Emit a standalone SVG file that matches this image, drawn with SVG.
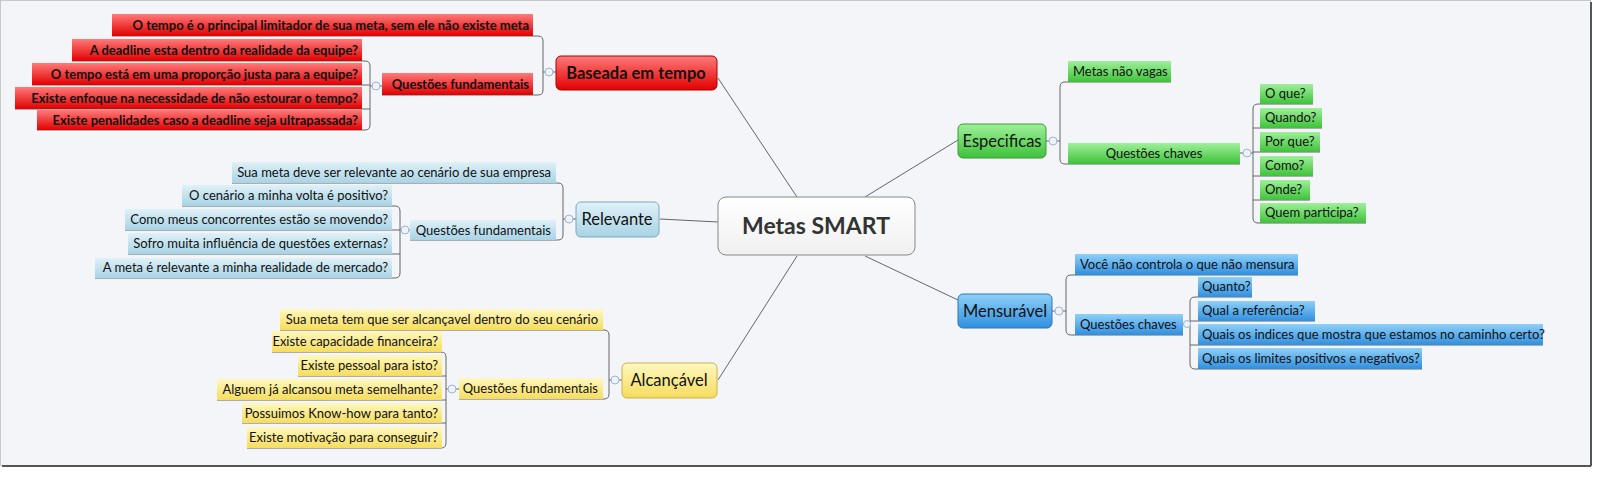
<svg xmlns="http://www.w3.org/2000/svg" width="1600" height="477" viewBox="0 0 1600 477">
<defs>
<linearGradient id="gR" x1="0" y1="0" x2="0" y2="1"><stop offset="0" stop-color="#ff7a7a"/><stop offset="1" stop-color="#e10000"/></linearGradient>
<linearGradient id="gG" x1="0" y1="0" x2="0" y2="1"><stop offset="0" stop-color="#9ff09a"/><stop offset="1" stop-color="#3ec23a"/></linearGradient>
<linearGradient id="gB" x1="0" y1="0" x2="0" y2="1"><stop offset="0" stop-color="#8fd0f8"/><stop offset="1" stop-color="#2f8fe0"/></linearGradient>
<linearGradient id="gL" x1="0" y1="0" x2="0" y2="1"><stop offset="0" stop-color="#dff1f8"/><stop offset="1" stop-color="#a8d3e5"/></linearGradient>
<linearGradient id="gY" x1="0" y1="0" x2="0" y2="1"><stop offset="0" stop-color="#fff8c0"/><stop offset="1" stop-color="#f6dc5c"/></linearGradient>
<linearGradient id="gW" x1="0" y1="0" x2="0" y2="1"><stop offset="0" stop-color="#ffffff"/><stop offset="1" stop-color="#f0f0f0"/></linearGradient>
</defs>
<style>
text{font-family:Lato,"Open Sans","Liberation Sans",sans-serif;font-size:13px;fill:#111}
.b{font-weight:bold}
.m{font-size:16.5px}
.c{font-size:23px;font-weight:bold;fill:#333}
.e{text-anchor:end}
.mid{text-anchor:middle}
.con path{fill:none;stroke:#666;stroke-width:1}
.col{fill:#eef3fa;stroke:#9fb4cf;stroke-width:1}
</style>
<rect x="0" y="0" width="1600" height="477" fill="#ffffff"/>
<rect x="0.5" y="0.5" width="1590" height="465" fill="#f4f5f9" stroke="#c8c8c8"/>
<line x1="1591" y1="2" x2="1591" y2="466" stroke="#555" stroke-width="2"/>
<line x1="2" y1="466" x2="1591" y2="466" stroke="#555" stroke-width="2"/>

<g class="con">
<path d="M797 197 L718 78 M718 222 L660 219 M797 256 L718 380 M865 197 L958 140 M865 256 L958 300"/>
<path d="M112 36 H538 Q543 36 543 41 V90 Q543 95 538 95 H382 M543 72 H556"/>
<path d="M72 61 H365 Q370 61 370 66 V125 Q370 130 365 130 H37 M32 85 H370 M15 109 H370 M370 86 H382"/>
<path d="M232 183 H558 Q563 183 563 188 V235 Q563 240 558 240 H410 M563 219 H576"/>
<path d="M182 206 H395 Q400 206 400 211 V273 Q400 278 395 278 H95 M125 230 H400 M128 254 H400 M400 230 H410"/>
<path d="M280 330 H604 Q609 330 609 335 V394 Q609 399 604 399 H459 M609 380 H622"/>
<path d="M272 352 H441 Q446 352 446 357 V443 Q446 448 441 448 H247 M298 376 H446 M217 400 H446 M242 423 H446 M446 389 H459"/>
<path d="M1171 82 H1065 Q1060 82 1060 87 V159 Q1060 164 1065 164 H1240 M1046 141 H1060"/>
<path d="M1313 104 H1258 Q1253 104 1253 109 V218 Q1253 223 1258 223 H1366 M1322 128 H1253 M1320 152 H1253 M1313 176 H1253 M1310 200 H1253 M1240 153 H1253"/>
<path d="M1298 275 H1071 Q1066 275 1066 280 V330 Q1066 335 1071 335 H1183 M1052 311 H1066"/>
<path d="M1252 297 H1195 Q1190 297 1190 302 V364 Q1190 369 1195 369 H1422 M1315 321 H1190 M1543 345 H1190 M1183 324 H1190"/>
</g>

<g id="center"><rect x="718" y="197" width="197" height="58" rx="8" fill="url(#gW)" stroke="#888"/><text class="c mid" x="816" y="234">Metas SMART</text></g>

<g id="baseada">
<rect x="556" y="56" width="161" height="34" rx="5" fill="url(#gR)" stroke="#a00"/><text class="m b mid" x="636" y="79" fill="#220">Baseada em tempo</text>
<circle class="col" cx="549" cy="72" r="4"/>
<rect x="112" y="14" width="421" height="22" fill="url(#gR)"/><text class="b e" x="529" y="30">O tempo é o principal limitador de sua meta, sem ele não existe meta</text>
<rect x="382" y="73" width="151" height="22" fill="url(#gR)"/><text class="b e" x="529" y="89">Questões fundamentais</text>
<circle class="col" cx="376" cy="86" r="4"/>
<rect x="72" y="39" width="290" height="22" fill="url(#gR)"/><text class="b e" x="358" y="55">A deadline esta dentro da realidade da equipe?</text>
<rect x="32" y="63" width="330" height="22" fill="url(#gR)"/><text class="b e" x="358" y="79">O tempo está em uma proporção justa para a equipe?</text>
<rect x="15" y="87" width="347" height="22" fill="url(#gR)"/><text class="b e" x="358" y="103">Existe enfoque na necessidade de não estourar o tempo?</text>
<rect x="37" y="110" width="325" height="20" fill="url(#gR)"/><text class="b e" x="358" y="125">Existe penalidades caso a deadline seja ultrapassada?</text>
</g>

<g id="relevante">
<rect x="576" y="202" width="83" height="35" rx="5" fill="url(#gL)" stroke="#7aa9be"/><text class="m mid" x="617" y="225">Relevante</text>
<circle class="col" cx="569" cy="219" r="4"/>
<rect x="232" y="162" width="324" height="21" fill="url(#gL)"/><text class="e" x="551" y="177">Sua meta deve ser relevante ao cenário de sua empresa</text>
<rect x="410" y="220" width="146" height="20" fill="url(#gL)"/><text class="e" x="551" y="235">Questões fundamentais</text>
<circle class="col" cx="405" cy="230" r="4"/>
<rect x="182" y="185" width="210" height="21" fill="url(#gL)"/><text class="e" x="388" y="200">O cenário a minha volta é positivo?</text>
<rect x="125" y="209" width="267" height="21" fill="url(#gL)"/><text class="e" x="388" y="224">Como meus concorrentes estão se movendo?</text>
<rect x="128" y="233" width="264" height="21" fill="url(#gL)"/><text class="e" x="388" y="248">Sofro muita influência de questões externas?</text>
<rect x="95" y="258" width="297" height="20" fill="url(#gL)"/><text class="e" x="388" y="272">A meta é relevante a minha realidade de mercado?</text>
</g>

<g id="alcancavel">
<rect x="622" y="363" width="95" height="35" rx="5" fill="url(#gY)" stroke="#c9b24a"/><text class="m mid" x="669" y="386">Alcançável</text>
<circle class="col" cx="615" cy="380" r="4"/>
<rect x="280" y="309" width="323" height="21" fill="url(#gY)"/><text class="e" x="598" y="324">Sua meta tem que ser alcançavel dentro do seu cenário</text>
<rect x="459" y="378" width="144" height="21" fill="url(#gY)"/><text class="e" x="598" y="393">Questões fundamentais</text>
<circle class="col" cx="452" cy="389" r="4"/>
<rect x="272" y="331" width="170" height="21" fill="url(#gY)"/><text class="e" x="438" y="346">Existe capacidade financeira?</text>
<rect x="298" y="355" width="144" height="21" fill="url(#gY)"/><text class="e" x="438" y="370">Existe pessoal para isto?</text>
<rect x="217" y="379" width="225" height="21" fill="url(#gY)"/><text class="e" x="438" y="394">Alguem já alcansou meta semelhante?</text>
<rect x="242" y="403" width="200" height="20" fill="url(#gY)"/><text class="e" x="438" y="418">Possuimos Know-how para tanto?</text>
<rect x="247" y="427" width="195" height="21" fill="url(#gY)"/><text class="e" x="438" y="442">Existe motivação para conseguir?</text>
</g>

<g id="especificas">
<rect x="958" y="124" width="88" height="34" rx="5" fill="url(#gG)" stroke="#3a9a36"/><text class="m mid" x="1002" y="147">Especificas</text>
<circle class="col" cx="1053" cy="141" r="4"/>
<rect x="1068" y="61" width="103" height="21" fill="url(#gG)"/><text x="1073" y="76">Metas não vagas</text>
<rect x="1068" y="143" width="172" height="21" fill="url(#gG)"/><text class="mid" x="1154" y="158">Questões chaves</text>
<circle class="col" cx="1247" cy="153" r="4"/>
<rect x="1260" y="84" width="53" height="20" fill="url(#gG)"/><text x="1265" y="98">O que?</text>
<rect x="1260" y="108" width="62" height="20" fill="url(#gG)"/><text x="1265" y="122">Quando?</text>
<rect x="1260" y="132" width="60" height="20" fill="url(#gG)"/><text x="1265" y="146">Por que?</text>
<rect x="1260" y="156" width="53" height="20" fill="url(#gG)"/><text x="1265" y="170">Como?</text>
<rect x="1260" y="180" width="50" height="20" fill="url(#gG)"/><text x="1265" y="194">Onde?</text>
<rect x="1260" y="203" width="106" height="20" fill="url(#gG)"/><text x="1265" y="217">Quem participa?</text>
</g>

<g id="mensuravel">
<rect x="958" y="294" width="94" height="34" rx="5" fill="url(#gB)" stroke="#2a78b8"/><text class="m mid" x="1005" y="317">Mensurável</text>
<circle class="col" cx="1059" cy="311" r="4"/>
<rect x="1075" y="254" width="223" height="21" fill="url(#gB)"/><text x="1080" y="269">Você não controla o que não mensura</text>
<rect x="1075" y="314" width="108" height="21" fill="url(#gB)"/><text x="1080" y="329">Questões chaves</text>
<circle class="col" cx="1187" cy="324" r="3.5"/>
<rect x="1198" y="277" width="54" height="20" fill="url(#gB)"/><text x="1202" y="291">Quanto?</text>
<rect x="1198" y="301" width="117" height="20" fill="url(#gB)"/><text x="1202" y="315">Qual a referência?</text>
<rect x="1198" y="324" width="345" height="21" fill="url(#gB)"/><text x="1202" y="339">Quais os indices que mostra que estamos no caminho certo?</text>
<rect x="1198" y="348" width="224" height="21" fill="url(#gB)"/><text x="1202" y="363">Quais os limites positivos e negativos?</text>
</g>
</svg>
